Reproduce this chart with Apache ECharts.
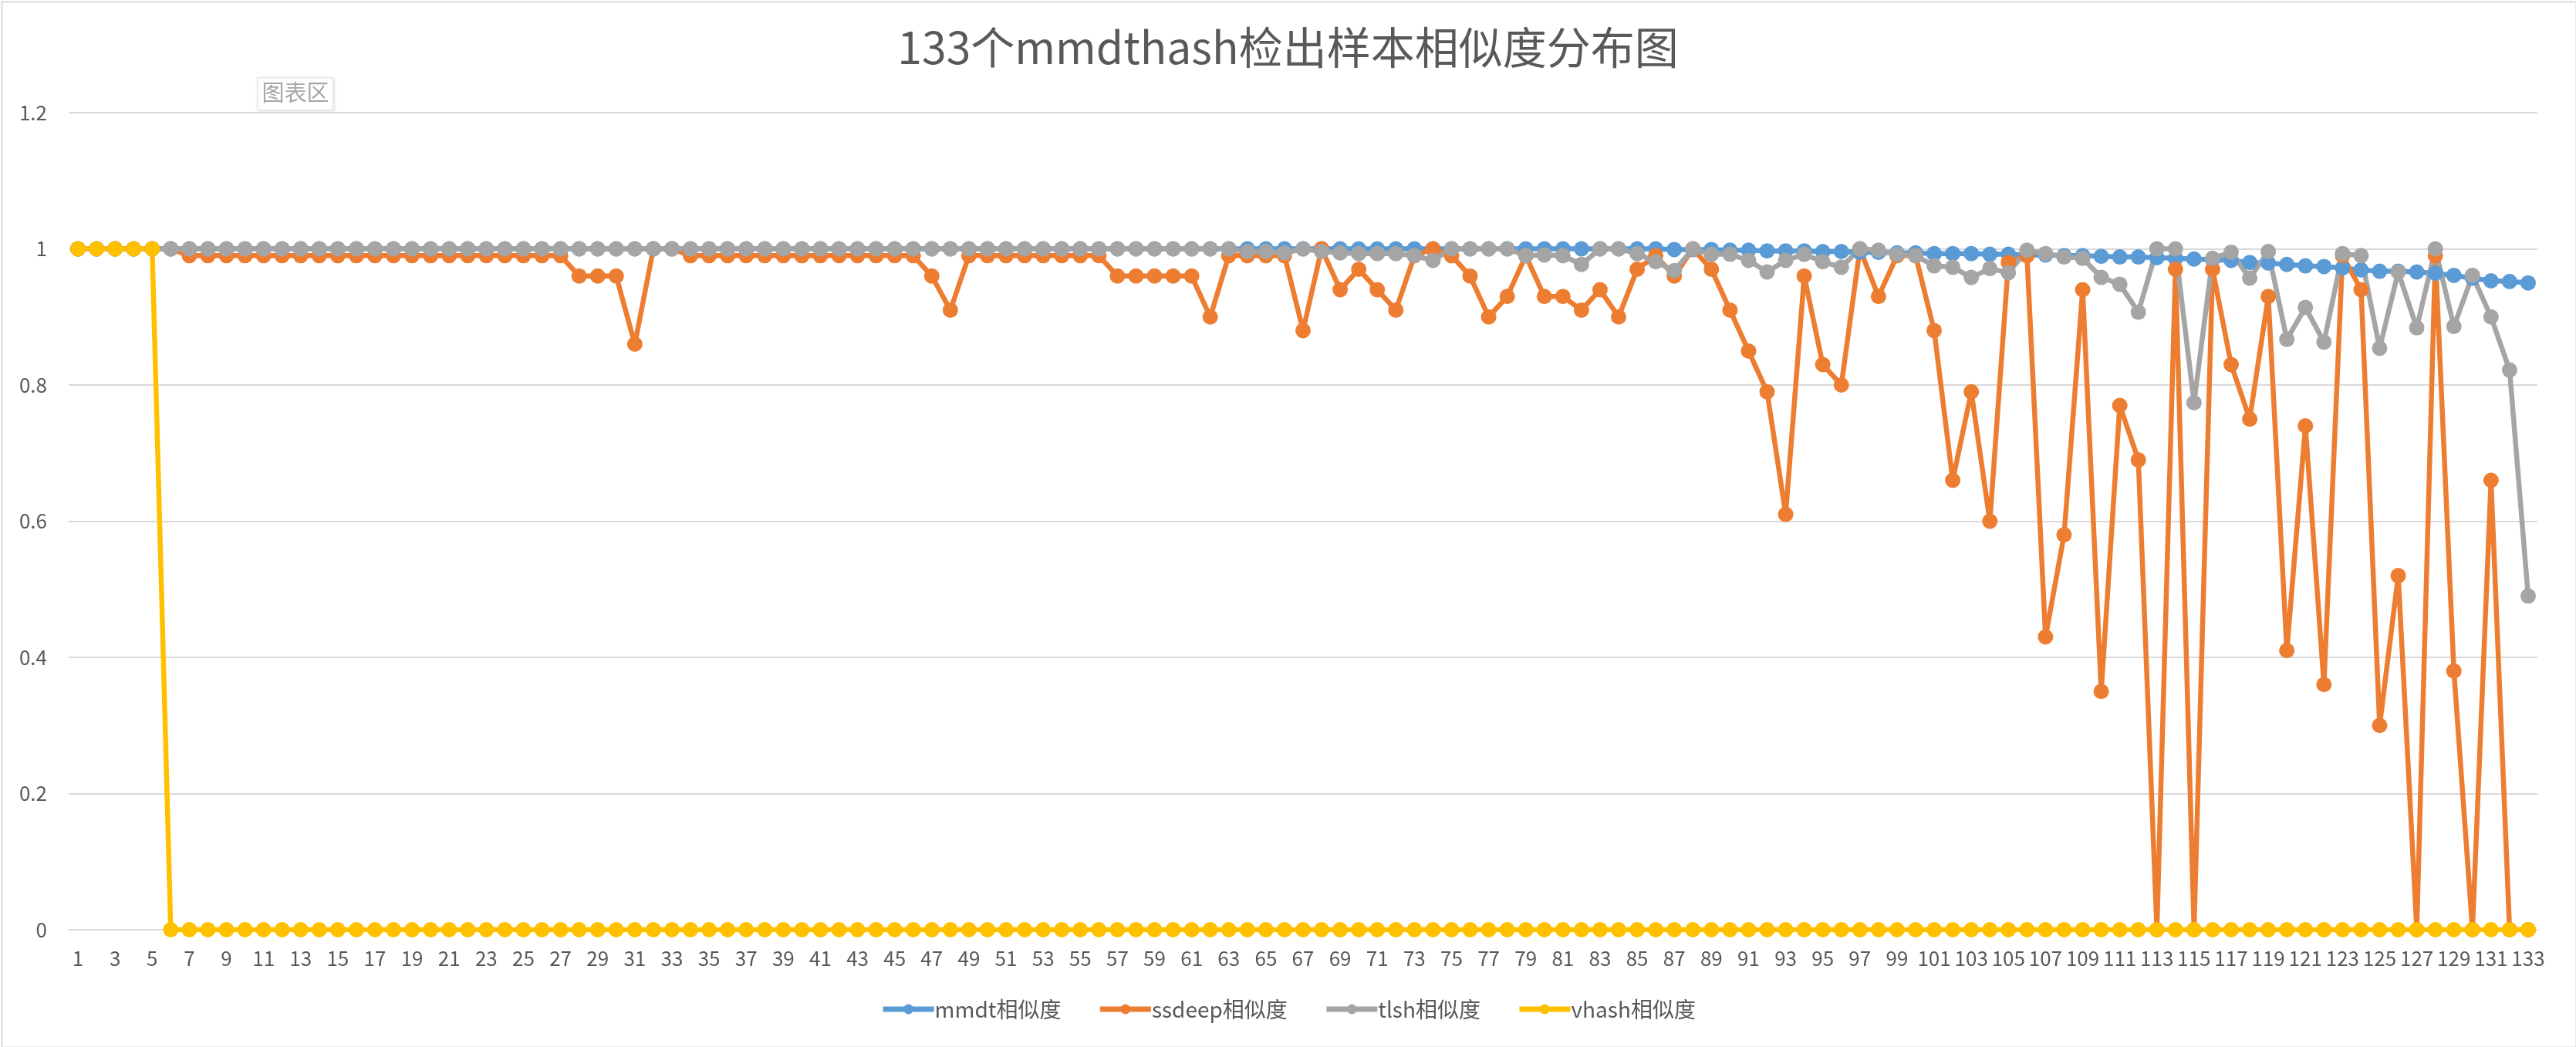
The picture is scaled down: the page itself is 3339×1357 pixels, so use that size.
<!DOCTYPE html>
<html>
<head>
<meta charset="utf-8">
<script src="https://cdn.jsdelivr.net/npm/echarts@6/dist/echarts.min.js"></script>
<style>
html,body{margin:0;padding:0;background:#fff;}
#chart{width:3339px;height:1357px;}
</style>
</head>
<body>
<div id="chart"></div>
<script>
var titleText = '133个mmdthash检出样本相似度分布图';
var seriesNames = ['mmdt相似度', 'ssdeep相似度', 'tlsh相似度', 'vhash相似度'];

var categories = [];
for (var i = 1; i <= 133; i++) categories.push(String(i));

var mmdt = [
  1,1,1,1,1,1,1,1,1,1,1,1,1,1,1,1,1,1,1,1,
  1,1,1,1,1,1,1,1,1,1,1,1,1,1,1,1,1,1,1,1,
  1,1,1,1,1,1,1,1,1,1,1,1,1,1,1,1,1,1,1,1,
  1,1,1,1,1,1,1,1,1,1,1,1,1,1,1,1,1,1,1,1,
  1,1,1,1,1,1,
  0.999,0.999,0.999,0.998,0.998,0.997,0.997,0.997,0.996,0.996,
  0.995,0.995,0.994,0.994,0.993,0.993,0.993,0.992,0.992,0.991,
  0.991,0.990,0.990,0.989,0.988,0.988,0.987,0.986,0.985,0.984,
  0.983,0.980,0.979,0.977,0.975,0.974,0.972,0.969,0.967,0.967,
  0.966,0.964,0.961,0.957,0.953,0.952,0.950
];

var ssdeep = [
  1,1,1,1,1,1,
  0.99,0.99,0.99,0.99,0.99,0.99,0.99,0.99,0.99,0.99,0.99,0.99,0.99,0.99,0.99,0.99,0.99,0.99,0.99,0.99,0.99,
  0.96,0.96,0.96,
  0.86,
  1,1,
  0.99,0.99,0.99,0.99,0.99,0.99,0.99,0.99,0.99,0.99,0.99,0.99,0.99,
  0.96,0.91,
  0.99,0.99,0.99,0.99,0.99,0.99,0.99,0.99,
  0.96,0.96,0.96,0.96,0.96,
  0.90,
  0.99,0.99,0.99,0.99,
  0.88,1,0.94,0.97,0.94,0.91,0.99,1,0.99,0.96,
  0.90,0.93,0.99,0.93,0.93,0.91,0.94,0.90,0.97,0.99,
  0.96,1,0.97,0.91,0.85,0.79,0.61,0.96,0.83,0.80,
  1,0.93,0.99,0.99,0.88,0.66,0.79,0.60,0.98,0.99,
  0.43,0.58,0.94,0.35,0.77,0.69,0,0.97,0,0.97,
  0.83,0.75,0.93,0.41,0.74,0.36,0.99,0.94,0.30,0.52,
  0,0.99,0.38,0,0.66,0,0
];

var tlsh = [
  1,1,1,1,1,1,1,1,1,1,1,1,1,1,1,1,1,1,1,1,
  1,1,1,1,1,1,1,1,1,1,1,1,1,1,1,1,1,1,1,1,
  1,1,1,1,1,1,1,1,1,1,1,1,1,1,1,1,1,1,1,1,
  1,1,1,
  0.996,0.996,0.994,1,0.996,0.994,0.993,0.993,0.993,0.99,
  0.983,1,1,1,1,0.99,0.991,0.99,0.977,1,
  1,0.993,0.981,0.968,1,0.992,0.992,0.983,0.966,0.983,
  0.992,0.981,0.973,1,0.998,0.992,0.99,0.975,0.973,0.958,
  0.971,0.965,0.998,0.993,0.988,0.986,0.958,0.948,0.907,1,
  1,0.774,0.986,0.995,0.957,0.996,0.867,0.914,0.863,0.993,
  0.99,0.854,0.966,0.884,1,0.886,0.961,0.90,0.822,0.49
];

var vhash = [
  1,1,1,1,1,
  0,0,0,0,0,0,0,0,0,0,0,0,0,0,0,0,
  0,0,0,0,0,0,0,0,0,0,0,0,0,0,0,0,
  0,0,0,0,0,0,0,0,0,0,0,0,0,0,0,0,
  0,0,0,0,0,0,0,0,0,0,0,0,0,0,0,0,
  0,0,0,0,0,0,0,0,0,0,0,0,0,0,0,0,
  0,0,0,0,0,0,0,0,0,0,0,0,0,0,0,0,
  0,0,0,0,0,0,0,0,0,0,0,0,0,0,0,0,
  0,0,0,0,0,0,0,0,0,0,0,0,0,0,0,0
];

var colors = ['#5B9BD5', '#ED7D31', '#A5A5A5', '#FFC000'];
var allData = [mmdt, ssdeep, tlsh, vhash];
allData.forEach(function (d, k) {
  if (d.length !== 133) throw new Error('series ' + k + ' length ' + d.length);
});

var fontFam = '"Noto Sans CJK SC", "Noto Sans", sans-serif';
var chart = echarts.init(document.getElementById('chart'));

var series = allData.map(function (d, k) {
  return {
    name: seriesNames[k],
    type: 'line',
    data: d,
    symbol: 'circle',
    symbolSize: 20,
    showSymbol: true,
    showAllSymbol: true,
    lineStyle: { width: 6.5, color: colors[k] },
    itemStyle: { color: colors[k] },
    emphasis: { disabled: true }
  };
});

chart.setOption({
  animation: false,
  backgroundColor: '#ffffff',
  color: colors,
  title: {
    text: titleText,
    left: 'center',
    top: 28,
    textStyle: { fontSize: 57, fontWeight: 'normal', color: '#595959', fontFamily: fontFam }
  },
  legend: {
    bottom: 30,
    left: 'center',
    itemWidth: 66,
    itemHeight: 16,
    itemGap: 47,
    lineStyle: { width: 7 },
    textStyle: { fontSize: 28, color: '#595959', fontFamily: fontFam, padding: [0, 0, 0, -4] },
    data: seriesNames
  },
  grid: { left: 89, right: 50, top: 146, bottom: 152, containLabel: false },
  xAxis: {
    type: 'category',
    data: categories,
    boundaryGap: true,
    axisLine: { lineStyle: { color: '#D9D9D9', width: 2 } },
    axisTick: { show: false },
    axisLabel: { interval: 1, fontSize: 26, color: '#595959', margin: 24, fontFamily: fontFam },
    splitLine: { show: false }
  },
  yAxis: {
    type: 'value',
    min: 0,
    max: 1.2,
    interval: 0.2,
    axisLine: { show: false },
    axisTick: { show: false },
    axisLabel: { fontSize: 26, color: '#595959', margin: 28, fontFamily: fontFam },
    splitLine: { lineStyle: { color: '#D9D9D9', width: 2 } }
  },
  graphic: [
    {
      type: 'rect',
      left: 0, top: 0,
      shape: { width: 3337, height: 1355 },
      style: { fill: 'none', stroke: '#D9D9D9', lineWidth: 2 },
      silent: true
    },
    {
      type: 'group',
      left: 333, top: 100,
      children: [
        {
          type: 'rect',
          shape: { width: 98, height: 42 },
          style: { fill: '#ffffff', stroke: '#E6E6E6', lineWidth: 1, shadowBlur: 4, shadowColor: 'rgba(0,0,0,0.12)', shadowOffsetX: 1, shadowOffsetY: 1 }
        },
        {
          type: 'text',
          left: 6, top: 5,
          style: { text: '图表区', fontSize: 29, fill: '#A6A6A6', fontFamily: fontFam }
        }
      ]
    }
  ],
  series: series
});
</script>
</body>
</html>
